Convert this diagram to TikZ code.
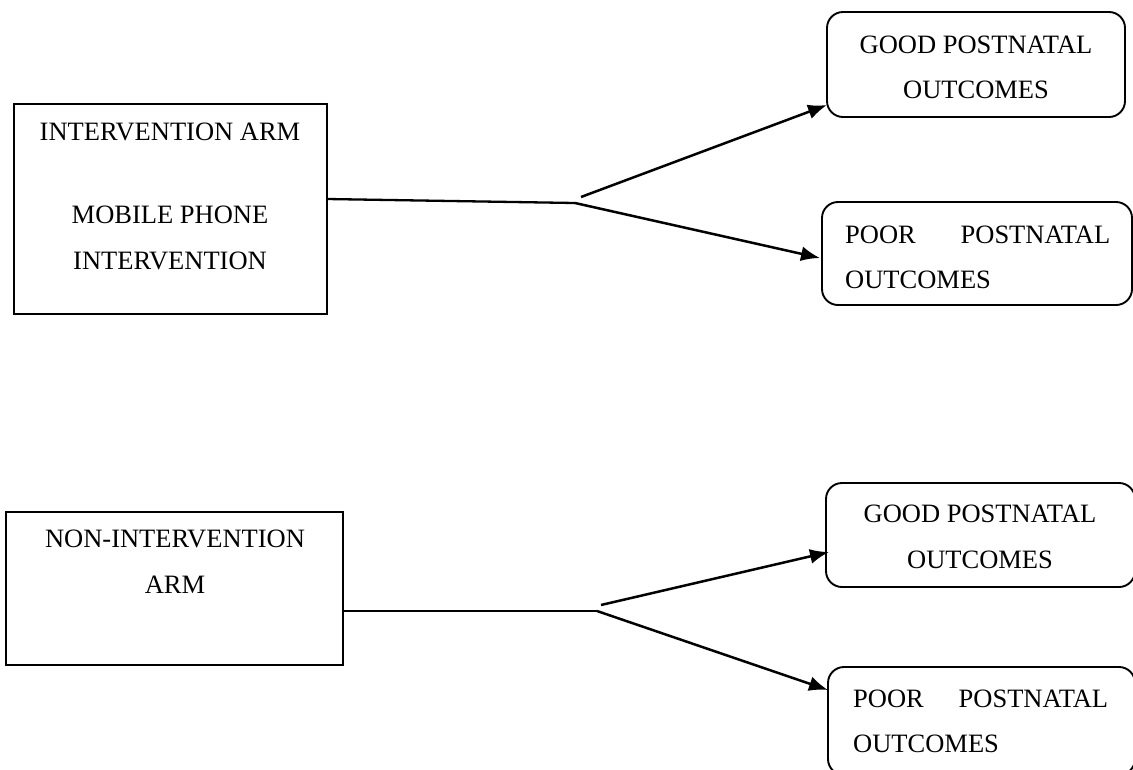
\documentclass[tikz,border=0pt]{standalone}
\usepackage{fontspec}
\setmainfont{Liberation Serif}
\usetikzlibrary{arrows.meta}
\begin{document}
\begin{tikzpicture}[x=1pt,y=-1pt,
  sqbox/.style={draw, line width=1.9pt, inner sep=0pt, outer sep=0pt},
  rbox/.style={draw, line width=1.9pt, rounded corners=16pt, inner sep=0pt, outer sep=0pt},
  lbl/.style={inner sep=0pt, anchor=base, font=\fontsize{26.5}{32}\selectfont},
  lblw/.style={inner sep=0pt, anchor=base west, font=\fontsize{26.5}{32}\selectfont},
  conn/.style={line width=2.3pt},
  arr/.style={line width=2.5pt, -{Latex[length=19pt,width=15pt]}}]
\useasboundingbox (0,0) rectangle (1133,769);
\fill[white] (0,0) rectangle (1133,769);
% boxes
\node[sqbox, minimum width=313pt, minimum height=210pt] (A) at (170.5,209) {};
\node[rbox, minimum width=298pt, minimum height=105pt] (B) at (976,64.5) {};
\node[rbox, minimum width=310pt, minimum height=103pt] (C) at (977,253.5) {};
\node[sqbox, minimum width=337pt, minimum height=153pt] (D) at (174.5,588.5) {};
\node[rbox, minimum width=309pt, minimum height=104pt] (E) at (980.5,535) {};
\node[rbox, minimum width=307pt, minimum height=108pt] (F) at (981.5,721) {};
% labels
\node[lbl] (a1) at (170,140) {INTERVENTION ARM};
\node[lbl] (a2) at (170,223) {MOBILE PHONE};
\node[lbl] (a3) at (170,269) {INTERVENTION};
\node[lbl] (b1) at (976,53) {GOOD POSTNATAL};
\node[lbl] (b2) at (976,98) {OUTCOMES};
\node[lblw] (c1) at (845,243) {\makebox[265pt][s]{POOR\hfill POSTNATAL}};
\node[lblw] (c2) at (845,288) {OUTCOMES};
\node[lbl] (d1) at (175,547) {NON-INTERVENTION};
\node[lbl] (d2) at (175,593) {ARM};
\node[lbl] (e1) at (980,522) {GOOD POSTNATAL};
\node[lbl] (e2) at (980,568) {OUTCOMES};
\node[lblw] (f1) at (853,707) {\makebox[255pt][s]{POOR\hfill POSTNATAL}};
\node[lblw] (f2) at (853,752) {OUTCOMES};
% connectors
\coordinate (j1) at (575,203);
\coordinate (j1u) at (581,197);
\coordinate (j2) at (597,611);
\coordinate (j2u) at (601,605);
\draw[conn] ([yshift=10pt]A.east) -- (j1);
\draw[arr] (j1u) -- ([yshift=-40.5pt]B.west);
\draw[arr] (j1) -- ([yshift=-4.5pt, xshift=-2pt]C.west);
\draw[conn] ([yshift=-22.5pt]D.east) -- (j2);
\draw[arr] (j2u) -- ([yshift=-17pt, xshift=3pt]E.west);
\draw[arr] (j2) -- ([yshift=31pt]F.west);
\end{tikzpicture}
\end{document}
